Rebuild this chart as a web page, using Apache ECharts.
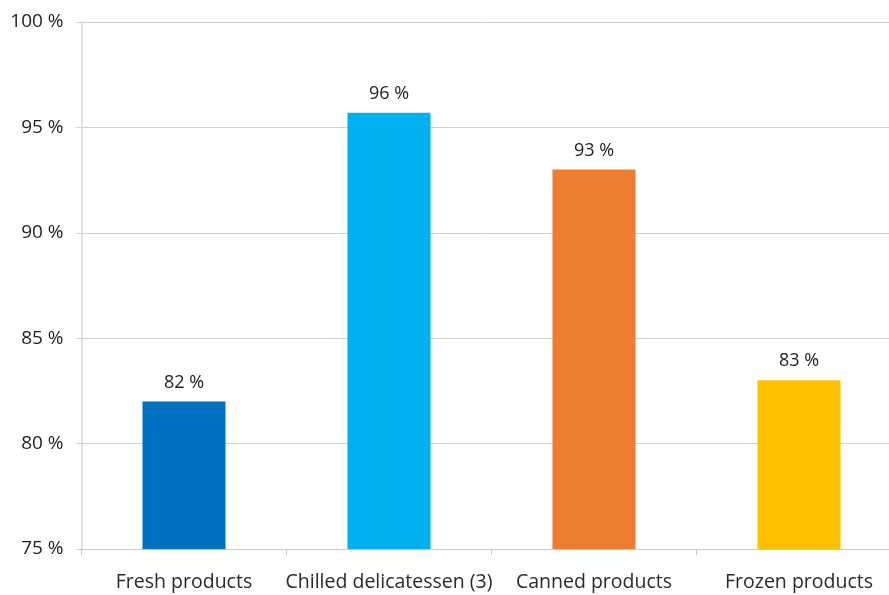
<!DOCTYPE html>
<html><head><meta charset="utf-8">
<script src="https://cdn.jsdelivr.net/npm/echarts@6/dist/echarts.min.js"></script>
<style>html,body{margin:0;padding:0;background:#fff}#c{width:889px;height:595px}</style>
</head><body><div id="c"></div>
<script>
const categories = ['Fresh products', 'Chilled delicatessen (3)', 'Canned products', 'Frozen products'];
const values = [82, 95.7, 93, 83];
const valueLabels = ['82 %', '96 %', '93 %', '83 %'];
const colors = ['#0070C0', '#00B0F0', '#ED7D31', '#FFC000'];
const yTicks = [75, 80, 85, 90, 95, 100];

const chart = echarts.init(document.getElementById('c'));
chart.setOption({
  animation: false,
  grid: { left: 81.5, width: 820, top: 22, bottom: 46, containLabel: false, outerBoundsMode: 'none' },
  xAxis: {
    type: 'category',
    data: categories,
    axisLine: { lineStyle: { color: '#c8c8c8', width: 1 } },
    axisTick: { show: true, length: 6, alignWithLabel: false, lineStyle: { color: '#c8c8c8' } },
    axisLabel: { color: '#2a2a2a', fontSize: 19.5, fontFamily: 'Open Sans, Noto Sans, sans-serif', margin: 23, interval: 0 }
  },
  yAxis: {
    type: 'value', min: 75, max: 100, interval: 5,
    axisLine: { show: true, lineStyle: { color: '#d9d9d9', width: 1.5 } },
    axisTick: { show: true, length: 5, lineStyle: { color: '#d0d0d0' } },
    splitLine: { lineStyle: { color: '#d0d0d0', width: 1 } },
    axisLabel: {
      color: '#1e1e1e', fontSize: 19, fontFamily: 'Open Sans, Noto Sans, sans-serif', margin: 18,
      padding: [4, 0, 0, 0],
      formatter: v => yTicks.includes(v) ? v + ' %' : ''
    }
  },
  series: [{
    type: 'bar',
    barWidth: '40.5%',
    data: values.map((v, i) => ({ value: v, itemStyle: { color: colors[i] } })),
    label: {
      show: true, position: 'top', distance: 10,
      color: '#222', fontSize: 18, fontFamily: 'Open Sans, Noto Sans, sans-serif',
      formatter: p => valueLabels[p.dataIndex]
    }
  }]
});
</script></body></html>
